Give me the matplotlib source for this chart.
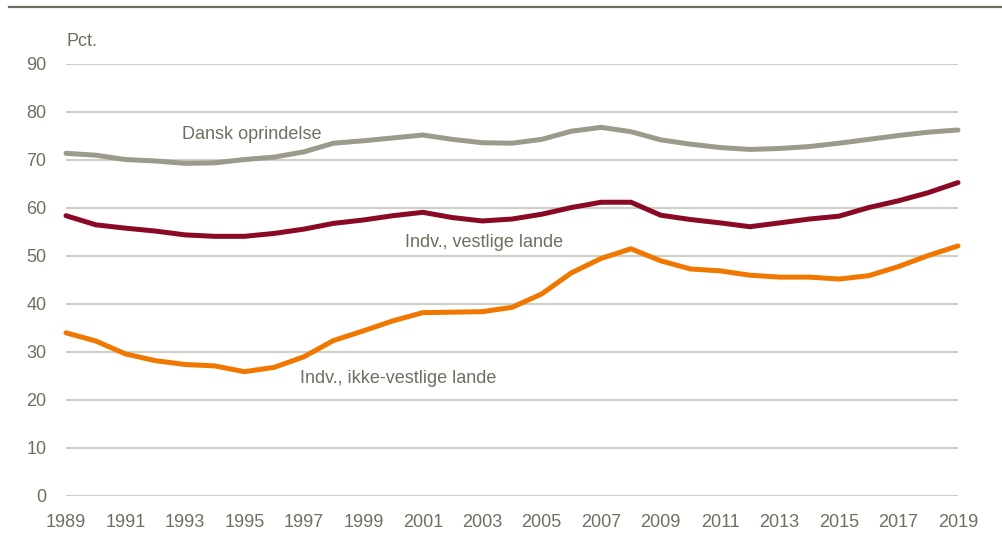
import matplotlib
matplotlib.use("Agg")
import matplotlib.pyplot as plt
from matplotlib import font_manager
from matplotlib.lines import Line2D

years = list(range(1989, 2020))
dansk = [71.4, 71.0, 70.1, 69.8, 69.3, 69.4, 70.1, 70.6, 71.7, 73.5, 74.0, 74.6, 75.2,
         74.3, 73.6, 73.5, 74.3, 76.0, 76.8, 75.9, 74.2, 73.3, 72.6, 72.2, 72.4, 72.8,
         73.5, 74.3, 75.1, 75.8, 76.25]
vestlige = [58.4, 56.5, 55.8, 55.2, 54.4, 54.1, 54.1, 54.7, 55.6, 56.8, 57.5, 58.4, 59.1,
            58.0, 57.3, 57.7, 58.7, 60.1, 61.2, 61.2, 58.5, 57.6, 56.9, 56.1, 56.9, 57.7,
            58.3, 60.1, 61.5, 63.2, 65.3]
ikke_vestlige = [34.0, 32.3, 29.6, 28.2, 27.4, 27.1, 25.9, 26.8, 29.0, 32.4, 34.4, 36.5,
                 38.2, 38.3, 38.4, 39.3, 42.1, 46.5, 49.5, 51.5, 49.0, 47.3, 46.9, 46.0,
                 45.6, 45.6, 45.2, 45.9, 47.8, 50.1, 52.1]
series_labels = ["Dansk oprindelse", "Indv., vestlige lande", "Indv., ikke-vestlige lande"]
yticks = list(range(0, 100, 10))
xticks = list(range(1989, 2020, 2))

names = {f.name for f in font_manager.fontManager.ttflist}
narrow = "Liberation Sans Narrow" in names
fam = ["Liberation Sans Narrow"] if narrow else ["Liberation Sans"]
plt.rcParams["font.family"] = fam + ["DejaVu Sans"]
fs = 14 if narrow else 13

txt = "#6f6f60"
grid = "#cfcfc4"
c_dansk = "#9b9a8b"
c_vest = "#8a0a25"
c_ikke = "#f07800"

fig = plt.figure(figsize=(10.02, 5.42), dpi=100)
ax = fig.add_axes([66 / 1002, 1 - 496 / 542, (958 - 66) / 1002, (496 - 64) / 542])

for v in yticks:
    ax.axhline(v, color=grid, lw=1.5, zorder=1)

lw = 3.6
ax.plot(years, dansk, color=c_dansk, lw=lw, solid_capstyle="round", zorder=3, clip_on=False)
ax.plot(years, vestlige, color=c_vest, lw=lw, solid_capstyle="round", zorder=3, clip_on=False)
ax.plot(years, ikke_vestlige, color=c_ikke, lw=lw, solid_capstyle="round", zorder=3, clip_on=False)

ax.set_xlim(1989, 2019)
ax.set_ylim(0, 90)
ax.set_yticks(yticks)
ax.set_xticks(xticks)
ax.tick_params(axis="both", length=0, labelsize=fs, labelcolor=txt)
ax.tick_params(axis="y", pad=14)
ax.tick_params(axis="x", pad=13)
for s in ax.spines.values():
    s.set_visible(False)

ax.text(1992.9, 75.4, series_labels[0], fontsize=fs, color=txt, va="center", ha="left")
ax.text(2000.4, 52.9, series_labels[1], fontsize=fs, color=txt, va="center", ha="left")
ax.text(1996.87, 24.4, series_labels[2], fontsize=fs, color=txt, va="center", ha="left")
ax.text(1989.0, 94.7, "Pct.", fontsize=fs, color=txt, va="center", ha="left", clip_on=False)

fig.add_artist(Line2D([9 / 1002, 1.0], [1 - 6.5 / 542, 1 - 6.5 / 542],
                      transform=fig.transFigure, color="#6f6f5f", lw=1.6))

fig.savefig("out.png", dpi=100)
